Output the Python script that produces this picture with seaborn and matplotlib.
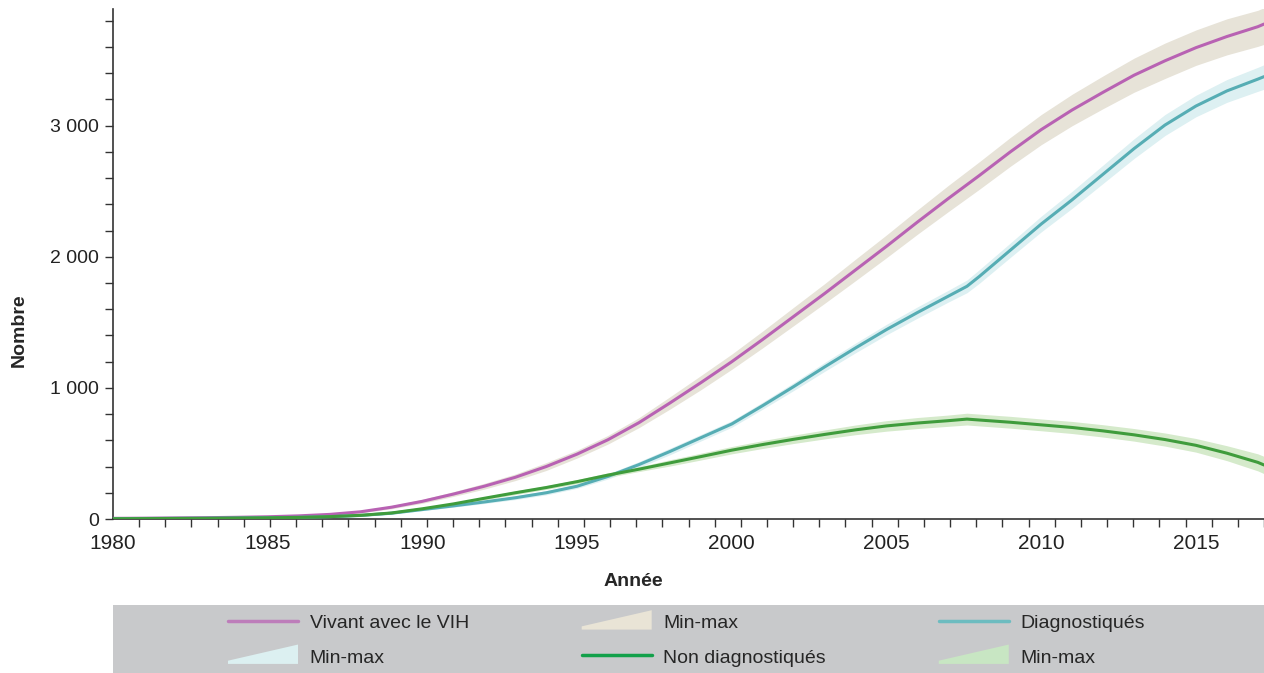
import numpy as np
import pandas as pd
import matplotlib
matplotlib.use('Agg')
import matplotlib.pyplot as plt
from matplotlib.patches import Polygon, Rectangle, Patch
from matplotlib.lines import Line2D
from matplotlib.legend_handler import HandlerPatch
from matplotlib.ticker import FixedLocator, FuncFormatter
import seaborn as sns

# Données
annees = [1980, 1981, 1982, 1983, 1984, 1985, 1986, 1987, 1988, 1989,
          1990, 1991, 1992, 1993, 1994, 1995, 1996, 1997, 1998, 1999,
          2000, 2001, 2002, 2003, 2004, 2005, 2006, 2007, 2007.6, 2008,
          2009, 2010, 2011, 2012, 2013, 2014, 2015, 2016, 2017, 2017.2]

vivant = [5, 6, 8, 10, 13, 17, 24, 35, 55, 90,
          135, 190, 250, 318, 400, 495, 605, 735, 885, 1040,
          1200, 1370, 1545, 1720, 1900, 2080, 2265, 2445, 2550, 2620,
          2800, 2970, 3120, 3255, 3385, 3495, 3595, 3680, 3755, 3775]
vivant_min = [2, 3, 5, 7, 9, 12, 18, 28, 46, 78,
              120, 172, 228, 293, 370, 465, 572, 697, 838, 986,
              1142, 1306, 1475, 1645, 1818, 1993, 2172, 2345, 2447, 2515,
              2690, 2855, 3000, 3130, 3255, 3360, 3460, 3540, 3605, 3620]
vivant_max = [8, 9, 11, 13, 17, 22, 30, 42, 64, 102,
              150, 208, 272, 343, 430, 525, 638, 773, 932, 1094,
              1258, 1434, 1615, 1795, 1982, 2167, 2358, 2545, 2653, 2725,
              2910, 3085, 3240, 3380, 3515, 3630, 3730, 3815, 3880, 3900]

diag = [3, 4, 5, 6, 8, 10, 13, 18, 27, 44,
        72, 100, 130, 162, 200, 250, 325, 415, 515, 620,
        725, 865, 1010, 1160, 1305, 1445, 1575, 1700, 1775, 1850,
        2050, 2250, 2435, 2630, 2825, 3005, 3150, 3265, 3355, 3374]
diag_min = [1, 2, 3, 4, 5, 7, 9, 13, 21, 37,
            64, 90, 118, 148, 184, 234, 305, 392, 490, 595,
            700, 838, 980, 1126, 1268, 1405, 1532, 1655, 1726, 1798,
            1995, 2190, 2370, 2560, 2750, 2925, 3068, 3178, 3262, 3278]
diag_max = [5, 6, 7, 8, 11, 13, 17, 23, 33, 51,
            80, 110, 142, 176, 216, 266, 345, 438, 540, 645,
            750, 892, 1040, 1194, 1342, 1485, 1618, 1745, 1823, 1902,
            2105, 2310, 2500, 2700, 2900, 3085, 3232, 3352, 3445, 3465]

non_diag = [2, 3, 4, 5, 7, 9, 12, 18, 28, 46,
            78, 115, 158, 200, 240, 285, 335, 380, 428, 476,
            525, 568, 608, 645, 680, 710, 732, 750, 762, 755,
            738, 718, 698, 672, 642, 606, 562, 502, 432, 412]
non_diag_min = [0, 1, 2, 3, 4, 6, 8, 13, 22, 39,
                72, 106, 146, 186, 226, 270, 318, 362, 404, 450,
                497, 538, 576, 611, 643, 670, 690, 707, 717, 710,
                693, 673, 652, 625, 594, 556, 510, 445, 367, 346]
non_diag_max = [4, 5, 6, 7, 10, 12, 16, 23, 34, 53,
                84, 124, 170, 214, 254, 300, 352, 398, 452, 502,
                553, 598, 640, 679, 717, 750, 774, 793, 807, 800,
                783, 763, 744, 719, 690, 656, 614, 559, 497, 478]

series = ['Vivant avec le VIH', 'Diagnostiqués', 'Non diagnostiqués']
couleurs = ['#b862b3', '#56adb4', '#3f9c3c']
bandes = ['#e7e3d8', '#ddf0f2', '#d5eacb']
leg_couleurs = ['#bd7dba', '#6dbcc0', '#12a04a']

df = pd.DataFrame({
    'Année': annees * 3,
    'Nombre': vivant + diag + non_diag,
    'Série': [s for s in series for _ in annees],
})

sns.set_style('ticks')
plt.rcParams['font.family'] = ['Liberation Sans', 'DejaVu Sans']

fig = plt.figure(figsize=(12.64, 6.73), dpi=100)
ax = fig.add_axes([113 / 1264, 1 - 519 / 673, 1151 / 1264, 510 / 673])

# bandes min-max
for lo, hi, c in [(vivant_min, vivant_max, bandes[0]),
                  (diag_min, diag_max, bandes[1]),
                  (non_diag_min, non_diag_max, bandes[2])]:
    ax.fill_between(annees, lo, hi, color=c, lw=0, zorder=1)

sns.lineplot(data=df, x='Année', y='Nombre', hue='Série', hue_order=series,
             palette=couleurs, linewidth=2.2, ax=ax, legend=False, zorder=3)

ax.set_xlim(1980, 2017.2)
ax.set_ylim(0, 3890)
sns.despine(ax=ax)
for s in ['left', 'bottom']:
    ax.spines[s].set_color('#333333')
    ax.spines[s].set_linewidth(1.2)

ax.xaxis.set_major_locator(FixedLocator(range(1980, 2016, 5)))
ax.xaxis.set_minor_locator(FixedLocator(np.linspace(1980, 2017.2, 45)))
ax.tick_params(axis='x', which='major', length=0, pad=11, labelsize=15, labelcolor='#222222')
ax.tick_params(axis='x', which='minor', length=6, width=1, color='#333333', direction='out')
ax.yaxis.set_major_locator(FixedLocator([0, 1000, 2000, 3000]))
ax.yaxis.set_minor_locator(FixedLocator(range(200, 3900, 200)))
ax.yaxis.set_major_formatter(FuncFormatter(lambda v, p: f'{int(v):,}'.replace(',', ' ')))
ax.tick_params(axis='y', which='both', length=6, width=1, color='#333333', direction='out')
ax.tick_params(axis='y', which='major', pad=4, labelsize=14, labelcolor='#222222')

ax.set_xlabel('Année', fontsize=14, fontweight='bold')
ax.set_ylabel('Nombre', fontsize=14, fontweight='bold')
ax.xaxis.set_label_coords(0.452, -0.105)
ax.yaxis.set_label_coords(-0.074, 0.37)


class HandlerTriangle(HandlerPatch):
    def create_artists(self, legend, orig_handle, xdescent, ydescent,
                       width, height, fontsize, trans):
        pts = [[-xdescent, -ydescent], [width - xdescent, -ydescent],
               [width - xdescent, height * 1.2 - ydescent], [-xdescent, 0.2 * height - ydescent]]
        p = Polygon(pts, closed=True, facecolor=orig_handle.get_facecolor(),
                    edgecolor='none', transform=trans)
        return [p]


# fond gris de la légende
fig.patches.append(Rectangle((113 / 1264, 0), 1151 / 1264, 68 / 673,
                             transform=fig.transFigure, facecolor='#c8c9cb',
                             edgecolor='none', zorder=0))

h_viv = Line2D([], [], color=leg_couleurs[0], lw=2.5)
h_dia = Line2D([], [], color=leg_couleurs[1], lw=2.5)
h_non = Line2D([], [], color=leg_couleurs[2], lw=2.5)
p_viv = Patch(facecolor='#e9e4d6')
p_dia = Patch(facecolor='#dcf0f1')
p_non = Patch(facecolor='#c8e6c3')
# ordre colonne par colonne pour retrouver la disposition en lignes
handles = [h_viv, p_dia, p_viv, h_non, h_dia, p_non]
labels = ['Vivant avec le VIH', 'Min-max', 'Min-max', 'Non diagnostiqués',
          'Diagnostiqués', 'Min-max']
fig.legend(handles, labels, ncol=3, loc='center left',
           bbox_to_anchor=(228 / 1264, 33 / 673), frameon=False,
           prop={'size': 14},
           handlelength=3.6, handleheight=0.9, handletextpad=0.6,
           columnspacing=5.8, labelspacing=0.8, borderpad=0, borderaxespad=0,
           handler_map={Patch: HandlerTriangle()})

fig.savefig('out.png', dpi=100)
